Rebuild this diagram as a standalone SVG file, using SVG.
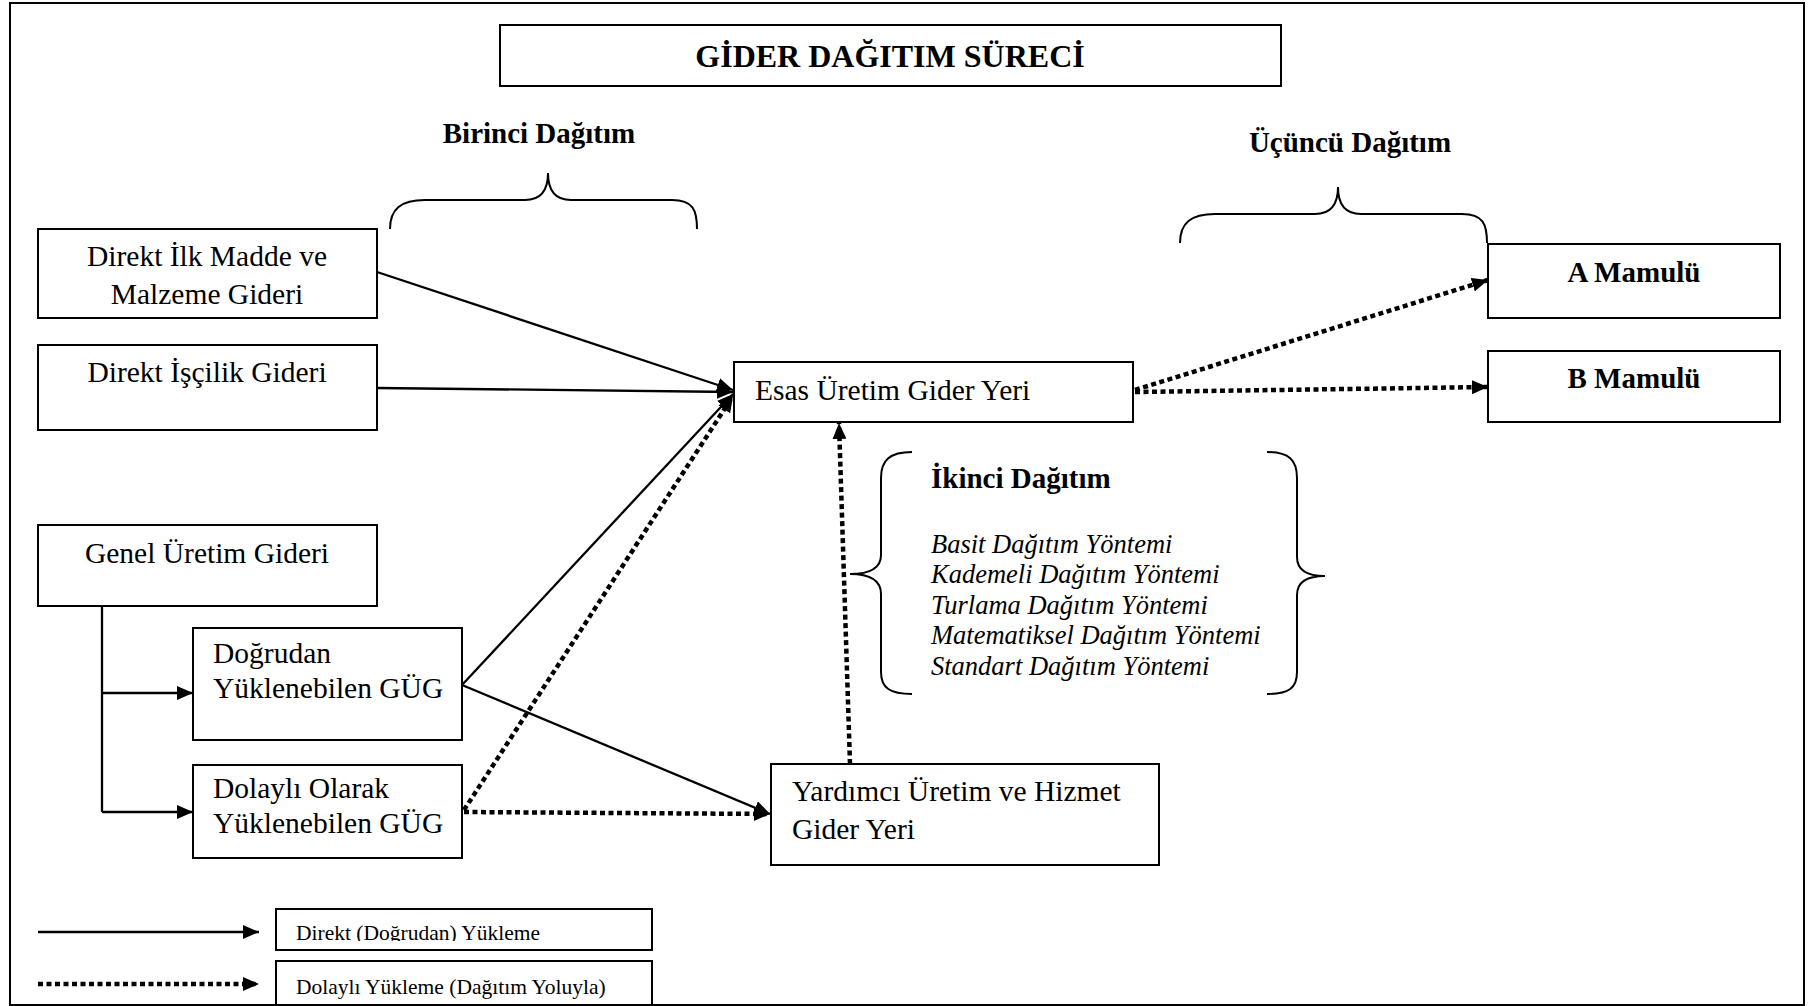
<svg xmlns="http://www.w3.org/2000/svg" xmlns:xlink="http://www.w3.org/1999/xlink" width="1818" height="1006" viewBox="0 0 1818 1006">
  <style>
    .box { fill: #ffffff; stroke: #000000; stroke-width: 2; }
    .t { font-family: "Liberation Serif", "Times New Roman", serif; font-size: 29.5px; fill: #000000; }
    .b { font-weight: bold; font-size: 29px; }
    .mid { text-anchor: middle; }
    .it { font-style: italic; font-size: 26.5px; }
    .lg { font-size: 21.5px; }
    .solid { fill: none; stroke: #000000; stroke-width: 2.3; }
    .dot { fill: none; stroke: #000000; stroke-width: 4.5; stroke-dasharray: 5 3.5; }
    .brace { fill: none; stroke: #000000; stroke-width: 2; }
  </style>
  <defs>
    <marker id="ah" viewBox="0 0 16 14" refX="16" refY="7" markerWidth="16" markerHeight="14" markerUnits="userSpaceOnUse" orient="auto">
      <path d="M0 0 L16 7 L0 14 z" fill="#000000"/>
    </marker>
    <!-- horizontal curly brace opening downward -->
    <path id="hbrace" d="M390 229 C390 209 401 200 425 200 L525 200 C541 200 548 191 548 173 C548 191 555 200 571 200 L672 200 C693 200 697 210 697 229"/>
    <clipPath id="legendClip">
      <rect x="276" y="909" width="376" height="32"/>
    </clipPath>
  </defs>

  <rect width="1818" height="1006" fill="#ffffff"/>
  <!-- outer frame -->
  <rect x="10" y="3" width="1794" height="1002" fill="none" stroke="#000000" stroke-width="2"/>

  <!-- title -->
  <g id="title">
    <rect class="box" x="500" y="25" width="781" height="61" stroke-width="2.5"/>
    <text class="t b mid" x="890" y="67" style="font-size:32px">GİDER DAĞITIM SÜRECİ</text>
  </g>

  <!-- distribution stage labels -->
  <g id="birinci">
    <text class="t b mid" x="539" y="143">Birinci Dağıtım</text>
    <use xlink:href="#hbrace" class="brace"/>
  </g>
  <g id="ucuncu">
    <text class="t b mid" x="1350" y="152">Üçüncü Dağıtım</text>
    <use xlink:href="#hbrace" class="brace" transform="translate(790,14)"/>
  </g>
  <g id="ikinci">
    <path class="brace" d="M912 452 C890 452 881 460 881 478 L881 555 C881 567 872 574 850 574 C872 574 881 582 881 594 L881 672 C881 688 890 694 912 694"/>
    <path class="brace" d="M1267 452 C1289 452 1297 460 1297 478 L1297 557 C1297 569 1305 576 1325 576 C1305 576 1297 583 1297 595 L1297 672 C1297 688 1289 694 1267 694"/>
    <text class="t b" x="931" y="488">İkinci Dağıtım</text>
    <text class="t it" x="931" y="553">Basit Dağıtım Yöntemi</text>
    <text class="t it" x="931" y="583">Kademeli Dağıtım Yöntemi</text>
    <text class="t it" x="931" y="614">Turlama Dağıtım Yöntemi</text>
    <text class="t it" x="931" y="644">Matematiksel Dağıtım Yöntemi</text>
    <text class="t it" x="931" y="675">Standart Dağıtım Yöntemi</text>
  </g>

  <!-- cost nodes -->
  <g id="direkt-ilk-madde">
    <rect class="box" x="38" y="229" width="339" height="89"/>
    <text class="t mid" x="207" y="266">Direkt İlk Madde ve</text>
    <text class="t mid" x="207" y="304">Malzeme Gideri</text>
  </g>
  <g id="direkt-iscilik">
    <rect class="box" x="38" y="345" width="339" height="85"/>
    <text class="t mid" x="207" y="382">Direkt İşçilik Gideri</text>
  </g>
  <g id="genel-uretim">
    <rect class="box" x="38" y="525" width="339" height="81"/>
    <text class="t mid" x="207" y="563">Genel Üretim Gideri</text>
  </g>
  <g id="dogrudan-gug">
    <rect class="box" x="193" y="628" width="269" height="112"/>
    <text class="t" x="213" y="663">Doğrudan</text>
    <text class="t" x="213" y="698">Yüklenebilen GÜG</text>
  </g>
  <g id="dolayli-gug">
    <rect class="box" x="193" y="765" width="269" height="93"/>
    <text class="t" x="213" y="798">Dolaylı Olarak</text>
    <text class="t" x="213" y="833">Yüklenebilen GÜG</text>
  </g>
  <g id="esas-uretim">
    <rect class="box" x="734" y="362" width="399" height="60"/>
    <text class="t" x="755" y="400">Esas Üretim Gider Yeri</text>
  </g>
  <g id="yardimci-uretim">
    <rect class="box" x="771" y="764" width="388" height="101"/>
    <text class="t" x="792" y="801">Yardımcı Üretim ve Hizmet</text>
    <text class="t" x="792" y="839">Gider Yeri</text>
  </g>
  <g id="a-mamulu">
    <rect class="box" x="1488" y="244" width="292" height="74"/>
    <text class="t b mid" x="1634" y="282">A Mamulü</text>
  </g>
  <g id="b-mamulu">
    <rect class="box" x="1488" y="351" width="292" height="71"/>
    <text class="t b mid" x="1634" y="388">B Mamulü</text>
  </g>

  <!-- connectors -->
  <g id="connectors">
    <path class="solid" d="M377 272 L733 390" marker-end="url(#ah)"/>
    <path class="solid" d="M377 388 L733 392" marker-end="url(#ah)"/>
    <path class="solid" d="M462 685 L733 394" marker-end="url(#ah)"/>
    <path class="solid" d="M462 685 L770 814" marker-end="url(#ah)"/>
    <path class="solid" d="M102 606 L102 812"/>
    <path class="solid" d="M102 693 L193 693" marker-end="url(#ah)"/>
    <path class="solid" d="M102 812 L193 812" marker-end="url(#ah)"/>
    <path class="dot" d="M464 810 L733 396" marker-end="url(#ah)"/>
    <path class="dot" d="M464 812 L770 814" marker-end="url(#ah)"/>
    <path class="dot" d="M850 764 L839 423" marker-end="url(#ah)"/>
    <path class="dot" d="M1135 390 L1488 280" marker-end="url(#ah)"/>
    <path class="dot" d="M1135 392 L1488 387" marker-end="url(#ah)"/>
  </g>

  <!-- legend -->
  <g id="legend-direkt">
    <path class="solid" d="M38 932 L259 932" marker-end="url(#ah)"/>
    <rect class="box" x="276" y="909" width="376" height="41"/>
    <text class="t lg" x="296" y="940" clip-path="url(#legendClip)">Direkt (Doğrudan) Yükleme</text>
  </g>
  <g id="legend-dolayli">
    <path class="dot" d="M38 984 L259 984" marker-end="url(#ah)"/>
    <rect class="box" x="276" y="961" width="376" height="44"/>
    <text class="t lg" x="296" y="994">Dolaylı Yükleme (Dağıtım Yoluyla)</text>
  </g>
</svg>
